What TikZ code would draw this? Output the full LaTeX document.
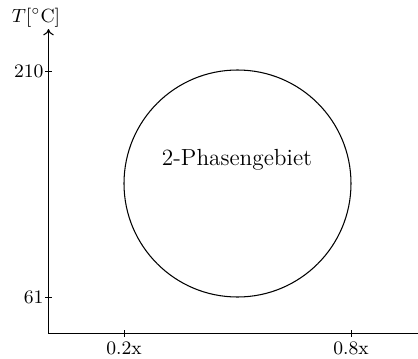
\documentclass[tikz,border=0pt]{standalone}
\usetikzlibrary{arrows.meta}
\begin{document}
\begin{tikzpicture}[x=0.01658cm,y=-0.01658cm,
  axis/.style={line width=0.5pt},
  tick/.style={line width=0.4pt},
  ticklbl/.style={font=\small,inner sep=1pt}]
\useasboundingbox (0,0) rectangle (418,359);
\coordinate (O) at (48.5,333.5);
\coordinate (ytop) at (48.5,29);
\coordinate (xend) at (418,333.5);
\draw[axis,-{To[length=3pt,width=5pt]}] (O) -- (ytop);
\draw[axis] (O) -- (xend);
\node[inner sep=0pt,font=\small] (ylab) at (36,18) {$T[^\circ\mathrm{C}]$};
% y ticks
\coordinate (y210) at (48.5,71);
\coordinate (y61) at (48.5,297);
\draw[tick] ([xshift=-1.5]y210) -- ([xshift=1.5]y210);
\draw[tick] ([xshift=-1.5]y61) -- ([xshift=1.5]y61);
\node[ticklbl,anchor=east] (l210) at (46,71) {210};
\node[ticklbl,anchor=east] (l61) at (46,297) {61};
% x ticks
\coordinate (x02) at (124,333.5);
\coordinate (x08) at (351,333.5);
\draw[tick] ([yshift=-1.5]x02) -- ([yshift=1.5]x02);
\draw[tick] ([yshift=-1.5]x08) -- ([yshift=1.5]x08);
\node[ticklbl] (l02) at (124,348) {0.2x};
\node[ticklbl] (l08) at (351,348) {0.8x};
% circle
\draw[line width=0.5pt] (237.5,183.5) circle[radius=113.5];
\node[font=\fontsize{11}{13}\selectfont] (phase) at (237,160) {2-Phasengebiet};
\end{tikzpicture}
\end{document}
